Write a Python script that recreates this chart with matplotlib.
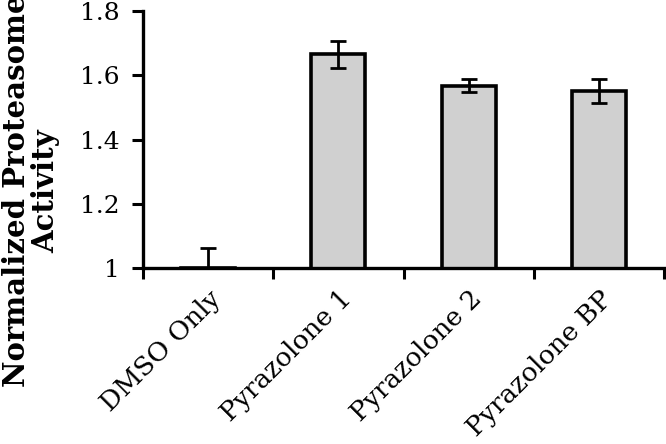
import matplotlib
matplotlib.use("Agg")
import matplotlib.pyplot as plt
import numpy as np

categories = ["DMSO Only", "Pyrazolone 1", "Pyrazolone 2", "Pyrazolone BP"]
values = [1.0, 1.665, 1.567, 1.550]
errors = [0.063, 0.041, 0.020, 0.037]
yticks = [1, 1.2, 1.4, 1.6, 1.8]
ytick_labels = ["1", "1.2", "1.4", "1.6", "1.8"]

plt.rcParams['font.family'] = ['DejaVu Serif']

fig = plt.figure(figsize=(6.66, 4.44), dpi=100)
ax = fig.add_axes([143/666, 1-268/444, (664-143)/666, (268-11)/444])

x = np.arange(len(categories))
ax.bar(x, values, width=0.415, color="#d0d0d0", edgecolor="black", linewidth=2.6,
       bottom=0, zorder=2)
ax.errorbar(x, values, yerr=errors, fmt="none", ecolor="black", elinewidth=2,
            capsize=6, capthick=2, zorder=3)

ax.set_xlim(-0.5, len(categories) - 0.5)
ax.set_ylim(1, 1.8)
ax.set_yticks(yticks)
ax.set_yticklabels(ytick_labels, fontsize=18)

ax.set_xticks(np.arange(len(categories) + 1) - 0.5)
ax.set_xticklabels([])
ax.set_xticks(x, minor=True)
ax.set_xticklabels(categories, minor=True, rotation=45, ha="right", va="top",
                   rotation_mode="anchor", fontsize=19)
ax.tick_params(axis="x", which="minor", length=0, pad=13)
ax.tick_params(axis="x", which="major", length=8, width=2.2, direction="out")
ax.tick_params(axis="y", length=8, width=2.2, direction="out", pad=9)

for s in ["top", "right"]:
    ax.spines[s].set_visible(False)
for s in ["left", "bottom"]:
    ax.spines[s].set_linewidth(2.4)
ax.spines["bottom"].set_zorder(4)

fig.text(31/666, 1-191/444, "Normalized Proteasome\nActivity", rotation=90,
         ha="center", va="center", fontsize=21, fontweight="bold",
         linespacing=1.0, multialignment="center")

fig.savefig("out.png", dpi=100)
